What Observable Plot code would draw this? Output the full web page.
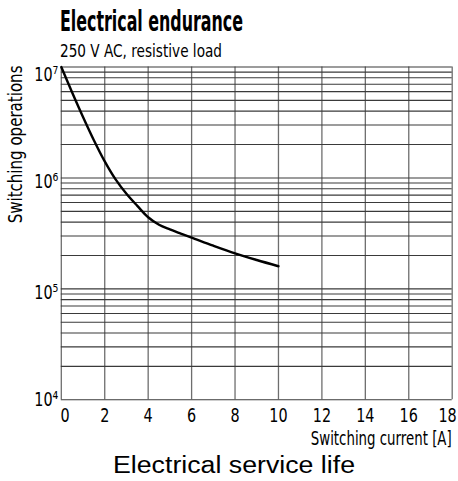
<!DOCTYPE html>
<html><head><meta charset="utf-8">
<script src="https://cdn.jsdelivr.net/npm/d3@7"></script>
<script src="https://cdn.jsdelivr.net/npm/@observablehq/plot@0.6"></script>
<style>
html,body{margin:0;padding:0;background:#fff}
body{width:458px;height:481px;position:relative;overflow:hidden}
.cond{font-family:"Liberation Sans Narrow","DejaVu Sans Condensed","Roboto Condensed",sans-serif;font-stretch:condensed}
.t{position:absolute;white-space:nowrap;line-height:1;color:#000;transform-origin:0 0}
#title{left:60px;top:8px;font-size:28px;font-weight:bold}
#subtitle{left:60px;top:43px;font-size:17px}
#chart{position:absolute;left:0;top:56px}
#caption{left:113px;top:454px;font-size:23.5px;font-family:"Liberation Sans",Arial,sans-serif}
</style></head>
<body>
<div id="title" class="t cond">Electrical endurance</div>
<div id="subtitle" class="t cond">250 V AC, resistive load</div>
<div id="chart"></div>
<div id="caption" class="t">Electrical service life</div>
<script>
// Data
const current = [0, 0.5, 1, 1.5, 2, 2.5, 3, 3.5, 4, 4.5, 5, 5.5, 6, 7, 8, 9, 10];
const operations = [1e7, 5.9e6, 3.55e6, 2.19e6, 1.41e6, 9.7e5, 7.2e5, 5.6e5, 4.42e5, 3.78e5, 3.43e5, 3.15e5, 2.9e5, 2.45e5, 2.09e5, 1.82e5, 1.6e5];

// Axes / grid
const xTicks = [0, 2, 4, 6, 8, 10, 12, 14, 16, 18];
const yDecades = [1e4, 1e5, 1e6, 1e7];
const yTickLabels = ["10⁴", "10⁵", "10⁶", "10⁷"];
const yGrid = [1e4, 2e4, 3e4, 4e4, 5e4, 6e4, 7e4, 8e4, 9e4,
               1e5, 2e5, 3e5, 4e5, 5e5, 6e5, 7e5, 8e5, 9e5,
               1e6, 2e6, 3e6, 4e6, 5e6, 6e6, 7e6, 8e6, 9e6, 1e7];
const xLabel = "Switching current [A]";
const yLabel = "Switching operations";

// fit the HTML texts to the original widths
function fit(id, w) {
  const el = document.getElementById(id);
  const r = el.getBoundingClientRect().width;
  el.style.transform = `scaleX(${w / r})`;
}
fit("title", 183);
fit("subtitle", 162);
fit("caption", 242);

const FONT = '"Liberation Sans Narrow","DejaVu Sans Condensed","Roboto Condensed",sans-serif';
const rows = current.map((c, i) => ({c, o: operations[i]}));

const xAxisOpts = {tickSize: 0, tickPadding: 8.7, fontSize: 19.5, label: null, stroke: "none"};
const yAxisOpts = {tickSize: 0, tickPadding: 3, fontSize: 19.5, label: null,
  tickFormat: d => yTickLabels[yDecades.indexOf(d)]};

const svg = Plot.plot({
  width: 458, height: 400,
  marginTop: 10.5, marginBottom: 56.7, marginLeft: 60.8, marginRight: 6.3,
  style: {fontFamily: FONT, background: "transparent", color: "#000", overflow: "visible"},
  x: {domain: [0, 18]},
  y: {type: "log", domain: [1e4, 1e7]},
  marks: [
    Plot.ruleX(xTicks, {stroke: "#6e6e6e", strokeWidth: 1.3}),
    Plot.ruleY(yGrid, {stroke: "#3a3a3a", strokeWidth: 1.1}),
    Plot.line(rows, {x: "c", y: "o", curve: "catmull-rom", stroke: "#000", strokeWidth: 2.4}),
    Plot.axisY([yDecades[3]], {...yAxisOpts, dy: 8}),
    Plot.axisY([yDecades[1], yDecades[2]], {...yAxisOpts, dy: 3.5}),
    Plot.axisY([yDecades[0]], {...yAxisOpts, dy: -0.5}),
    Plot.axisX([xTicks[0]], {...xAxisOpts, textAnchor: "start", dx: -0.8}),
    Plot.axisX(xTicks.slice(1, -1), {...xAxisOpts}),
    Plot.axisX([xTicks[xTicks.length - 1]], {...xAxisOpts, textAnchor: "end", dx: 4.5}),
    Plot.text([xLabel], {frameAnchor: "bottom-right", text: d => d, textAnchor: "end", lineAnchor: "top",
      fontSize: 19, dx: -0.5, dy: 31.5}),
    Plot.text([yLabel], {frameAnchor: "top-left", text: d => d, rotate: -90, textAnchor: "end", lineAnchor: "middle",
      fontSize: 19.5, dx: -45.3, dy: -1.5})
  ]
});
document.getElementById("chart").appendChild(svg);

// condense SVG text horizontally (around its anchor) to match the narrow typeface of the original
svg.querySelectorAll("text").forEach(t => {
  const s = t.textContent;
  const L = t.getComputedTextLength();
  let k = 0.82;
  if (s === yLabel && L > 0) k = 158 / L;
  else if (s === xLabel && L > 0) k = 141 / L;
  const st = svg.createSVGTransform();
  st.setScale(k, 1);
  t.transform.baseVal.appendItem(st);
});
</script>
</body></html>
